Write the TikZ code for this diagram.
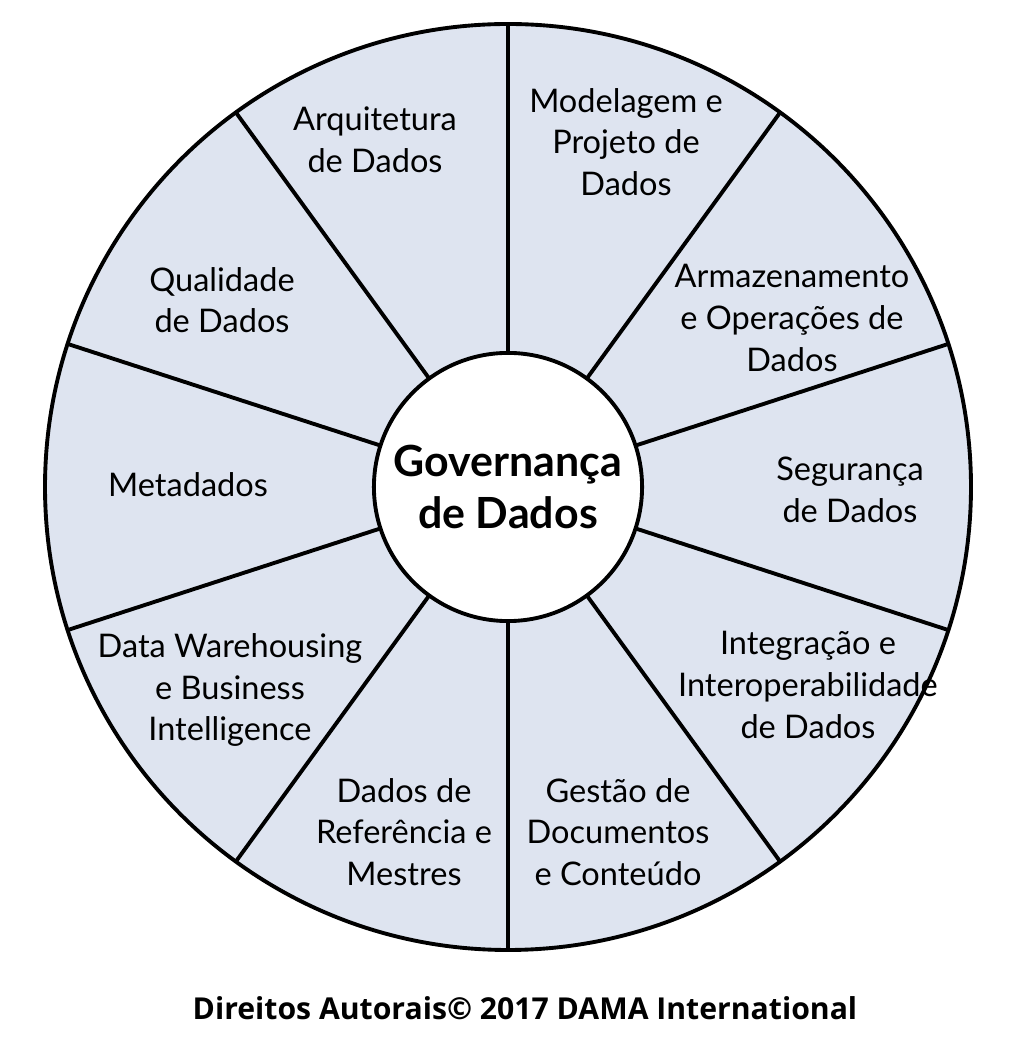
\documentclass[tikz,border=0pt]{standalone}
\usepackage{fontspec}
\setmainfont{Lato}
\newfontfamily\copyfont{Open Sans}
\definecolor{wheelfill}{RGB}{222,228,240}
\tikzset{
  areatext/.style={align=center, font=\fontsize{23.5}{30}\selectfont},
  hubtext/.style={align=center, font=\fontsize{31}{38}\selectfont\bfseries},
}
\begin{document}
\begin{tikzpicture}[x=0.01in,y=0.01in]
        \useasboundingbox (0,0) rectangle (1008,1056);
        \coordinate (c) at (508,569);
        \draw [line width=2.8pt, fill=wheelfill] (c) circle (463);
        \foreach \a in {18,54,...,342}
          \draw [line width=2.8pt] (c) -- ++(\a:463);
        \node (hub) [circle, draw, line width=2.8pt, fill=white, minimum size=2.68in, inner sep=0pt, hubtext] at (c) {Governança\\de Dados};
        % areas around the hub
        \node (arq) [areatext] at (375,916) {Arquitetura\\de Dados};
        \node (mod) [areatext] at (626,914) {Modelagem e\\Projeto de\\Dados};
        \node (arm) [areatext] at (792,738) {Armazenamento\\e Operações de\\Dados};
        \node (seg) [areatext] at (850,566) {Segurança\\de Dados};
        \node (int) [areatext] at (808,371) {Integração e\\Interoperabilidade\\de Dados};
        \node (ges) [areatext] at (618,224) {Gestão de\\Documentos\\e Conteúdo};
        \node (ref) [areatext] at (404,224) {Dados de\\Referência e\\Mestres};
        \node (dw) [areatext] at (230,366) {Data Warehousing\\e Business\\Intelligence};
        \node (meta) [areatext] at (188,571) {Metadados};
        \node (qual) [areatext] at (222,756) {Qualidade\\de Dados};
        \node (copy) [font=\copyfont\fontsize{21.8}{26}\selectfont\bfseries] at (525,48) {Direitos Autorais© 2017 DAMA International};
\end{tikzpicture}
\end{document}
